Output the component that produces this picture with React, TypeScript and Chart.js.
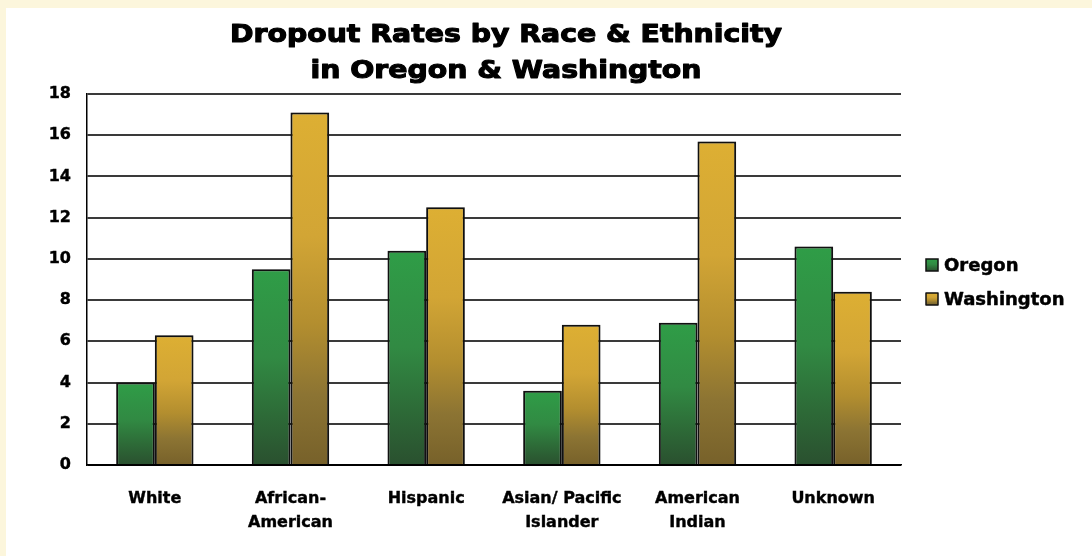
import React, { useEffect, useRef } from "react";
import { Chart, registerables } from "chart.js";

Chart.register(...registerables);

const titleLines = ["Dropout Rates by Race & Ethnicity", "in Oregon & Washington"];
const categories = [
  ["White"],
  ["African-", "American"],
  ["Hispanic"],
  ["Asian/ Pacific", "Islander"],
  ["American", "Indian"],
  ["Unknown"],
];
const seriesNames = ["Oregon", "Washington"];
const oregon = [4.0, 9.5, 10.4, 3.6, 6.9, 10.6];
const washington = [6.3, 17.1, 12.5, 6.8, 15.7, 8.4];
const yMin = 0;
const yMax = 18;
const yStep = 2;

const FONT = '"DejaVu Sans", "Liberation Sans", Arial, sans-serif';

const greenStops: [number, string][] = [
  [0, "#2F9D47"],
  [0.45, "#318A43"],
  [0.75, "#2D6A37"],
  [1, "#2A502F"],
];
const goldStops: [number, string][] = [
  [0, "#DDAF33"],
  [0.35, "#D2A535"],
  [0.6, "#B38E2F"],
  [0.8, "#8C7433"],
  [1, "#77612A"],
];
const legendStops = [greenStops, goldStops];

function gradientFill(stops: [number, string][], fallback: string) {
  return (c: any) => {
    if (c.type !== "data") return fallback;
    const chart = c.chart;
    const y = chart.scales && chart.scales.y;
    if (!y) return fallback;
    const top = y.getPixelForValue(c.raw);
    const bottom = y.getPixelForValue(0);
    if (!isFinite(top) || !isFinite(bottom) || top === bottom) return fallback;
    const g = chart.ctx.createLinearGradient(0, top, 0, bottom);
    stops.forEach(([o, col]) => g.addColorStop(o, col));
    return g;
  };
}

const titlePlugin = {
  id: "customTitle",
  afterDraw(chart: any) {
    const ctx = chart.ctx;
    ctx.save();
    ctx.font = `bold 24px ${FONT}`;
    ctx.fillStyle = "#000";
    ctx.strokeStyle = "#000";
    ctx.lineWidth = 1.1;
    ctx.lineJoin = "round";
    ctx.textAlign = "center";
    ctx.textBaseline = "alphabetic";
    const baselines = [34, 70];
    titleLines.forEach((line, i) => {
      ctx.save();
      ctx.translate(500, baselines[i]);
      ctx.scale(1.18, 1);
      ctx.strokeText(line, 0, 0);
      ctx.fillText(line, 0, 0);
      ctx.restore();
    });
    ctx.restore();
  },
};

const legendPlugin = {
  id: "customLegend",
  afterDraw(chart: any) {
    const ctx = chart.ctx;
    const area = chart.chartArea;
    const boxX = area.right + 25;
    const centers = [area.top + 171, area.top + 205];
    ctx.save();
    chart.data.datasets.forEach((ds: any, i: number) => {
      const cy = centers[i];
      const g = ctx.createLinearGradient(0, cy - 6, 0, cy + 6);
      legendStops[i].forEach(([o, col]) => g.addColorStop(o, col));
      ctx.fillStyle = g;
      ctx.fillRect(boxX, cy - 6, 12, 12);
      ctx.strokeStyle = "#111";
      ctx.lineWidth = 1.5;
      ctx.strokeRect(boxX, cy - 6, 12, 12);
      ctx.font = `bold 18px ${FONT}`;
      ctx.textAlign = "left";
      ctx.textBaseline = "middle";
      ctx.fillStyle = "#000";
      ctx.strokeStyle = "#000";
      ctx.lineWidth = 0.5;
      ctx.lineJoin = "round";
      ctx.strokeText(ds.label, boxX + 18, cy + 1);
      ctx.fillText(ds.label, boxX + 18, cy + 1);
    });
    ctx.restore();
  },
};

const shadowPlugin = {
  id: "barShadow",
  beforeDatasetsDraw(chart: any) {
    const ctx = chart.ctx;
    ctx.save();
    ctx.shadowColor = "rgba(0,0,0,0.28)";
    ctx.shadowBlur = 3;
  },
  afterDatasetsDraw(chart: any) {
    chart.ctx.restore();
  },
};

export default function App() {
  const ref = useRef<HTMLCanvasElement | null>(null);

  useEffect(() => {
    if (!ref.current) return;
    const chart = new Chart(ref.current, {
      type: "bar",
      data: {
        labels: categories,
        datasets: [
          {
            label: seriesNames[0],
            data: oregon,
            backgroundColor: gradientFill(greenStops, "#2E8B42"),
            borderColor: "#111",
            borderWidth: 2,
            categoryPercentage: 0.57,
            barPercentage: 1.0,
          },
          {
            label: seriesNames[1],
            data: washington,
            backgroundColor: gradientFill(goldStops, "#C9A031"),
            borderColor: "#111",
            borderWidth: 2,
            categoryPercentage: 0.57,
            barPercentage: 1.0,
          },
        ] as any,
      },
      options: {
        animation: false,
        responsive: false,
        maintainAspectRatio: false,
        layout: { padding: { top: 86, right: 191, left: 0, bottom: 0 } },
        plugins: {
          title: { display: false },
          tooltip: { enabled: false },
          legend: { display: false },
        },
        scales: {
          x: {
            grid: { display: false, drawTicks: false },
            border: { display: true, color: "#000", width: 1.5 },
            ticks: {
              color: "#000",
              padding: 21,
              maxRotation: 0,
              autoSkip: false,
              textStrokeColor: "#000",
              textStrokeWidth: 0.4,
              font: { family: FONT, size: 16, weight: "bold", lineHeight: 1.55 },
            },
            afterFit(scale: any) {
              scale.height = 91;
            },
          },
          y: {
            min: yMin,
            max: yMax,
            ticks: {
              stepSize: yStep,
              color: "#000",
              padding: 16,
              textStrokeColor: "#000",
              textStrokeWidth: 0.4,
              font: { family: FONT, size: 16, weight: "bold" },
            },
            grid: {
              drawTicks: false,
              color: (c: any) => (c.tick && c.tick.value === 0 ? "#000" : "#3a3a3a"),
              lineWidth: 2,
            },
            border: { display: true, color: "#000", width: 1.5 },
            afterFit(scale: any) {
              scale.width = 81;
            },
          },
        },
      },
      plugins: [titlePlugin, legendPlugin, shadowPlugin],
    } as any);
    return () => chart.destroy();
  }, []);

  return (
    <div style={{ position: "fixed", inset: 0, background: "#FCF6DC" }}>
      <div
        style={{
          position: "absolute",
          left: 6,
          top: 8,
          width: 1086,
          height: 548,
          background: "#FFFFFF",
        }}
      >
        <canvas ref={ref} width={1086} height={548} style={{ display: "block" }} />
      </div>
    </div>
  );
}
